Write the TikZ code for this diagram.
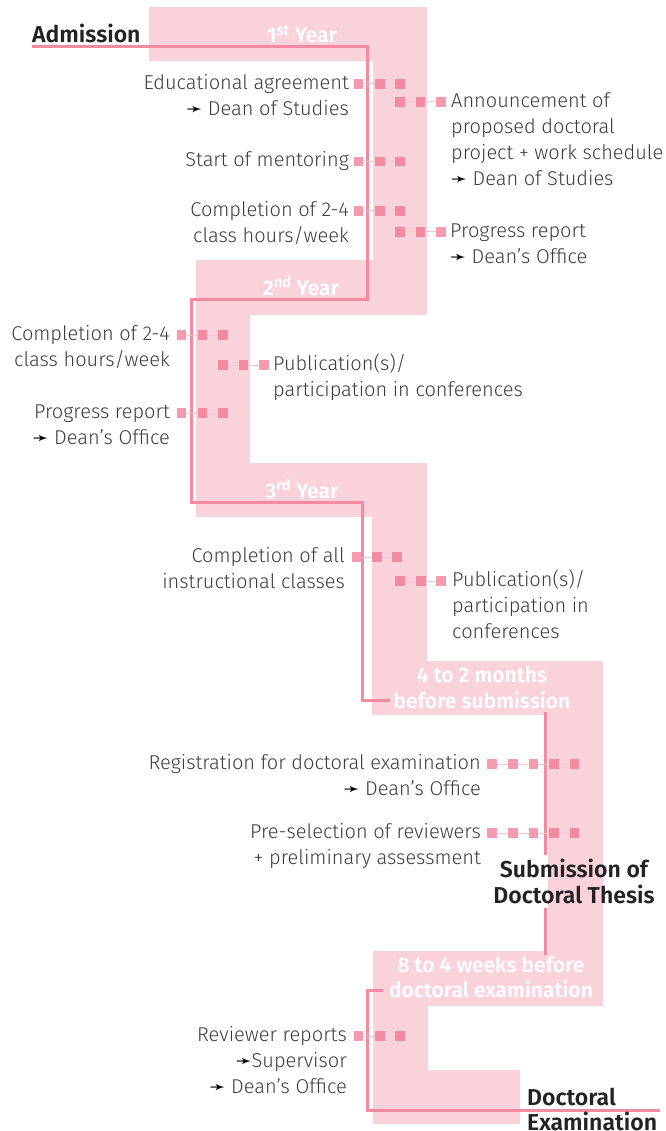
\documentclass[tikz,border=0pt]{standalone}
\usepackage{fontspec}
\setmainfont{Fira Sans}[UprightFont=* Light, BoldFont=* SemiBold]
\newfontfamily\symfont{DejaVu Sans}
\definecolor{band}{HTML}{FAD2DA}
\definecolor{pline}{HTML}{F4899F}
\definecolor{sqc}{HTML}{EE6684}
\definecolor{connc}{HTML}{F8C4CF}
\definecolor{txt}{HTML}{3C3C3C}
\definecolor{darktxt}{HTML}{222222}
\newcommand\arr{{\symfont\fontsize{19}{19}\selectfont\color{black}➛}}
\newcommand\dotrow[3]{%
  \foreach \xx [count=\i] in {#3} {\node[sq] (#1-\i) at (\xx,#2) {};}}
\tikzset{
  sq/.style={fill=sqc, fill opacity=0.65, minimum size=9.6pt, inner sep=0pt, draw=none, outer sep=0pt},
  connline/.style={draw=connc, line width=1pt},
  tline/.style={draw=pline, line width=3pt},
  lab/.style={font=\fontsize{20}{26}\selectfont, text=txt, inner sep=0pt},
  labl/.style={lab, anchor=base west, align=left},
  labr/.style={lab, anchor=base east, align=right},
  yearlab/.style={font=\bfseries\fontsize{21}{26}\selectfont, text=white, inner sep=0pt, align=center, anchor=base},
  mile/.style={font=\bfseries\fontsize{23}{26}\selectfont, text=darktxt, inner sep=0pt},
}
\begin{document}
\begin{tikzpicture}[x=1pt,y=-1pt]
\useasboundingbox (0,0) rectangle (665,1131);
% band
\fill[band] (149,7) rectangle (427,61);
\fill[band] (373,61) rectangle (427,315);
\fill[band] (196,260) rectangle (427,315);
\fill[band] (196,315) rectangle (250,463);
\fill[band] (196,463) rectangle (427,517);
\fill[band] (372,517) rectangle (427,661);
\fill[band] (372,661) rectangle (602.5,715);
\fill[band] (547.5,715) rectangle (602.5,951);
\fill[band] (373,951) rectangle (602.5,1006);
\fill[band] (373,1006) rectangle (428,1124);
\fill[band] (373,1070) rectangle (520,1124);
% timeline
\coordinate (t0) at (32,47);
\coordinate (t1) at (390,700.5);
\draw[tline] (t0) -- (367,47) -- (367,299) -- (191,299) -- (191,502.5) -- (362,502.5) -- (362,700.5) -- (t1);
\coordinate (s0) at (545,712);
\coordinate (s1) at (545,855);
\draw[tline] (s0) -- (s1);
\coordinate (s2) at (545,908);
\coordinate (s3) at (545,955);
\draw[tline] (s2) -- (s3);
\coordinate (u0) at (383,990.5);
\coordinate (u1) at (660,1110);
\draw[tline] (u0) -- (367,990.5) -- (367,1110) -- (u1);
% dot rows
\dotrow{e1}{84}{358.5,380,400}
\dotrow{e2}{102}{400,420.5,441}
\dotrow{e3}{161.5}{358.5,380,400}
\dotrow{e4}{211}{358.5,380,400}
\dotrow{e5}{232}{400,420.5,441}
\dotrow{e6}{335}{181.5,202.5,223}
\dotrow{e7}{365}{223,243.5,264}
\dotrow{e8}{413}{181.5,202.5,223}
\dotrow{e9}{557}{356.5,377,397}
\dotrow{e10}{581}{400,421,441}
\dotrow{e11}{764}{492,513,533.5,554,574.5}
\dotrow{e12}{833}{492,513,533.5,554,574.5}
\dotrow{e13}{1036}{358.5,380,400}
\foreach \r in {e1,e2,e3,e4,e5,e6,e7,e8,e9,e10,e13}
  {\draw[connline] (\r-1) -- (\r-2) -- (\r-3);}
\foreach \r in {e11,e12}
  {\draw[connline] (\r-1) -- (\r-2) -- (\r-3) -- (\r-4) -- (\r-5);}
% labels (anchor = baseline of last line)
\node[labr] (l1) at (349,115.5) {Educational agreement\\\arr\ Dean of Studies};
\node[labl] (l2) at (451,185.5) {Announcement of\\proposed doctoral\\project + work schedule\\\arr\ Dean of Studies};
\node[labr] (l3) at (349,166.5) {Start of mentoring};
\node[labr] (l4) at (349,242.5) {Completion of 2-4\\class hours/week};
\node[labl] (l5) at (450,263.5) {Progress report\\\arr\ Dean's Office};
\node[labr] (l6) at (170,366.5) {Completion of 2-4\\class hours/week};
\node[labl] (l7) at (273,396.5) {Publication(s)/\\participation in conferences};
\node[labr] (l8) at (170,444.5) {Progress report\\\arr\ Dean's Office};
\node[labr] (l9) at (345,588.5) {Completion of all\\instructional classes};
\node[labl] (l10) at (452,638.5) {Publication(s)/\\participation in\\conferences};
\node[labr] (l11) at (481,795.5) {Registration for doctoral examination\\\arr\ Dean's Office};
\node[labr] (l12) at (481,864.5) {Pre-selection of reviewers\\+ preliminary assessment};
\node[labr] (l13) at (347,1093.5) {Reviewer reports\\\arr Supervisor\\\arr\ Dean's Office};
% year labels
\node[yearlab] (y1) at (302,43) {1\textsuperscript{st} Year};
\node[yearlab] (y2) at (301,295) {2\textsuperscript{nd} Year};
\node[yearlab] (y3) at (302,498) {3\textsuperscript{rd} Year};
\node[yearlab] (y4) at (482,708) {4 to 2 months\\before submission};
\node[yearlab] (y5) at (491,997) {8 to 4 weeks before\\[-1pt]doctoral examination};
% milestones
\node[mile, anchor=base west] (m1) at (32,43) {Admission};
\node[mile, anchor=base, align=center] (m2) at (574,903) {Submission of\\Doctoral Thesis};
\node[mile, anchor=base west, align=left] (m3) at (527,1130) {Doctoral\\[-1pt]Examination};
\end{tikzpicture}
\end{document}
